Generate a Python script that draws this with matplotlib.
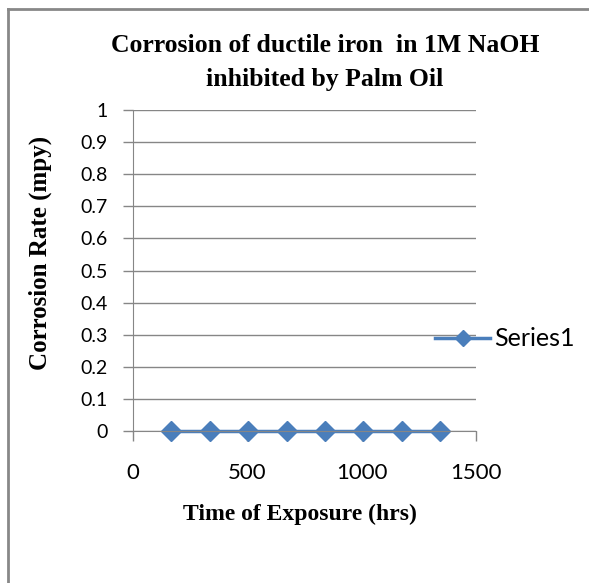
import matplotlib.pyplot as plt

# exposure time (hrs) and corrosion rate (mpy)
hours = [168, 336, 504, 672, 840, 1008, 1176, 1344]
rate = [0, 0, 0, 0, 0, 0, 0, 0]
series_name = 'Series1'

title = 'Corrosion of ductile iron  in 1M NaOH\ninhibited by Palm Oil'
xlab = 'Time of Exposure (hrs)'
ylab = 'Corrosion Rate (mpy)'

W, H = 589, 583
fig = plt.figure(figsize=(W / 100, H / 100), dpi=100)
ax = fig.add_axes([133 / W, 1 - 431 / H, (476 - 133) / W, (431 - 110) / H])

blue = '#4a7ebb'
ax.plot(hours, rate, color=blue, lw=2.5, marker='D', ms=10.5, label=series_name, clip_on=False)

ax.set_xlim(0, 1500)
ax.set_ylim(0, 1)
ax.set_xticks([0, 500, 1000, 1500])
ax.set_yticks([i / 10 for i in range(11)])
ax.set_yticklabels(['0'] + ['%g' % (i / 10) for i in range(1, 11)])
ax.grid(axis='y', color='#868686', lw=1)
ax.set_axisbelow(True)
for s in ['top', 'right']:
    ax.spines[s].set_visible(False)
for s in ['left', 'bottom']:
    ax.spines[s].set_color('#868686')
ax.tick_params(colors='#868686', length=7, width=1, labelcolor='black')
ax.tick_params(axis='x', labelsize=16, pad=16)
ax.tick_params(axis='y', labelsize=14, pad=11)
for t in ax.get_xticklabels() + ax.get_yticklabels():
    t.set_fontfamily('Lato')

serif = {'family': 'Liberation Serif', 'weight': 'bold'}
# two title lines, placed separately to get Excel's wider line gap
for line, ypix in zip(title.split('\n'), [45, 80]):
    fig.text(325 / W, 1 - ypix / H, line, ha='center', va='center', fontsize=18.5, **serif)
fig.text(300 / W, 1 - 514 / H, xlab, ha='center', va='center', fontsize=17, **serif)
fig.text(40 / W, 1 - 253 / H, ylab, ha='center', va='center', rotation=90, fontsize=18, **serif)

leg = ax.legend(loc='center left', bbox_to_anchor=(435 / W, 1 - 339 / H), bbox_transform=fig.transFigure,
                frameon=False, handlelength=2.2, handletextpad=0.15, borderpad=0, borderaxespad=0,
                markerscale=0.8, prop={'family': 'Lato', 'size': 18})

# chart frame (left and top edges visible)
fig.add_artist(plt.Line2D([8 / W, 8 / W], [0, 1 - 9 / H], transform=fig.transFigure, color='#888888', lw=2))
fig.add_artist(plt.Line2D([8 / W, 1], [1 - 9 / H, 1 - 9 / H], transform=fig.transFigure, color='#888888', lw=2))

fig.savefig('out.png', dpi=100)
